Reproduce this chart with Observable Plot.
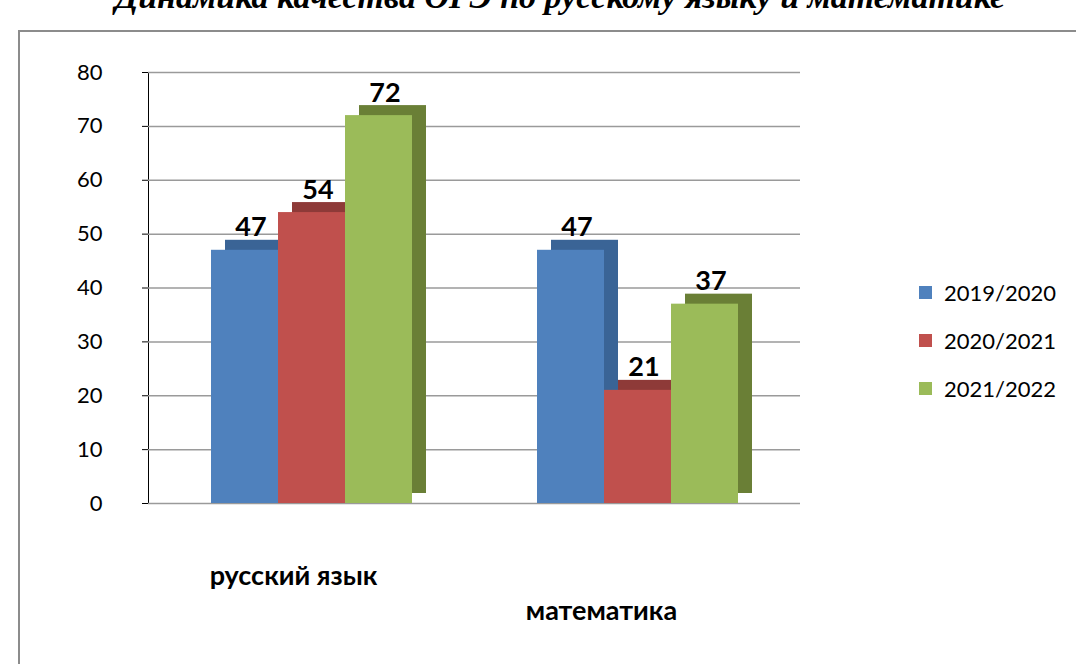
<!DOCTYPE html>
<html>
<head>
<meta charset="utf-8">
<script src="https://cdn.jsdelivr.net/npm/d3@7"></script>
<script src="https://cdn.jsdelivr.net/npm/@observablehq/plot@0.6"></script>
<style>
  html, body { margin: 0; padding: 0; background: #fff; overflow: hidden; }
  body { width: 1076px; height: 664px; position: relative; font-family: Lato, "Open Sans", sans-serif; }
  #title { position: absolute; left: 0; width: 1120px; top: -22px; text-align: center;
           font-family: "Liberation Serif", "DejaVu Serif", serif; font-weight: bold; font-style: italic;
           font-size: 34px; line-height: 38px; white-space: nowrap; color: #000; }
  #frame { position: absolute; left: 18px; top: 30px; width: 1100px; height: 700px;
           border-left: 2px solid #8c8c8c; border-top: 2px solid #8c8c8c; }
  #chart { position: absolute; left: 0; top: 40px; }
  #legend { position: absolute; left: 919px; top: 268px; font-size: 22px; color: #000; }
  .item { display: flex; align-items: center; height: 48px; }
  .sw { width: 13px; height: 13px; margin-right: 12px; }
</style>
</head>
<body>
<div id="title">Динамика качества ОГЭ по русскому языку и математике</div>
<div id="frame"></div>
<div id="chart"></div>
<div id="legend"></div>
<script>
const subjects = ["русский язык", "математика"];
const years = ["2019/2020", "2020/2021", "2021/2022"];
const rusValues = [47, 54, 72];
const mathValues = [47, 21, 37];
const frontColors = ["#4F81BD", "#C0504D", "#9BBB59"];
const sideColors = ["#3A6496", "#8E3A38", "#6A7F36"];
const yTicks = [0, 10, 20, 30, 40, 50, 60, 70, 80];

const seriesBySubject = [rusValues, mathValues];
const data = [];
subjects.forEach((s, i) => {
  years.forEach((y, j) => {
    data.push({subject: s, year: y, value: seriesBySubject[i][j], front: frontColors[j], side: sideColors[j]});
  });
});

const labelFont = "Lato, 'Open Sans', sans-serif";
const chart = Plot.plot({
  width: 880,
  height: 595,
  marginLeft: 148,
  marginRight: 80,
  marginTop: 32,
  marginBottom: 132,
  style: {fontFamily: labelFont, fontSize: "22px", color: "#000", background: "transparent"},
  fx: {domain: subjects, padding: 0, axis: null, label: null},
  x: {domain: years, axis: null, paddingInner: 0, paddingOuter: 0.93},
  y: {domain: [0, 80], ticks: yTicks, tickSize: 6, tickPadding: 40, line: true, label: null},
  color: {type: "identity"},
  marks: [
    Plot.ruleY(yTicks, {stroke: "#9a9a9a", strokeWidth: 1.5}),
    Plot.barY(data, {fx: "subject", x: "year", y: "value", fill: "side", dx: 14, dy: -10, inset: 0}),
    Plot.barY(data, {fx: "subject", x: "year", y: "value", fill: "front", inset: 0}),
    Plot.text(data, {fx: "subject", x: "year", y: "value", text: d => String(d.value),
      lineAnchor: "bottom", dy: -14, dx: 6, fontSize: 27, fontWeight: "bold", fill: "#000"}),
    Plot.text([subjects[0]], {fx: d => d, text: d => d, frameAnchor: "bottom", lineAnchor: "top",
      dy: 62, dx: -18, fontSize: 27, fontWeight: "bold", fill: "#000"}),
    Plot.text([subjects[1]], {fx: d => d, text: d => d, frameAnchor: "bottom", lineAnchor: "top",
      dy: 97, dx: -36, fontSize: 27, fontWeight: "bold", fill: "#000"})
  ]
});
document.getElementById("chart").appendChild(chart);

const legend = document.getElementById("legend");
years.forEach((y, j) => {
  const item = document.createElement("div");
  item.className = "item";
  const sw = document.createElement("div");
  sw.className = "sw";
  sw.style.background = frontColors[j];
  const t = document.createElement("span");
  t.textContent = y;
  item.appendChild(sw);
  item.appendChild(t);
  legend.appendChild(item);
});
</script>
</body>
</html>
